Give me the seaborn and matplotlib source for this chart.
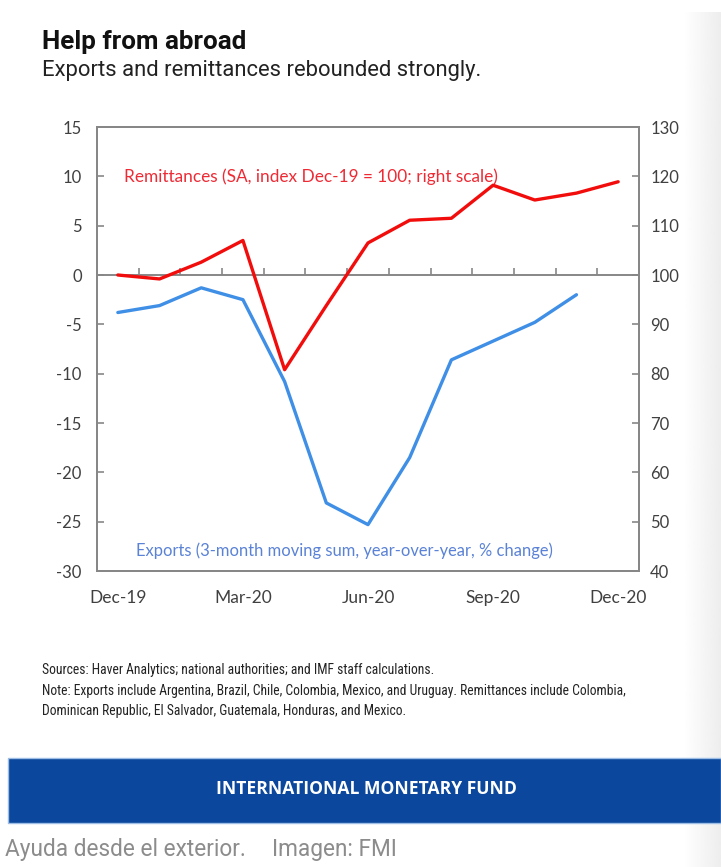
import numpy as np
import pandas as pd
import matplotlib
matplotlib.use("Agg")
import matplotlib.pyplot as plt
import seaborn as sns
from matplotlib import font_manager
from matplotlib.patches import Rectangle

# ---- data -------------------------------------------------------------
months = ["Dec-19", "Jan-20", "Feb-20", "Mar-20", "Apr-20", "May-20", "Jun-20",
          "Jul-20", "Aug-20", "Sep-20", "Oct-20", "Nov-20", "Dec-20"]
remittances = [100.0, 99.2, 102.6, 107.0, 80.8, 93.8, 106.5,
               111.1, 111.5, 118.2, 115.2, 116.6, 118.9]
exports = [-3.8, -3.1, -1.3, -2.5, -10.8, -23.1, -25.3,
           -18.5, -8.6, -6.7, -4.8, -2.0]
tick_months = ["Dec-19", "Mar-20", "Jun-20", "Sep-20", "Dec-20"]
left_ticks = [15, 10, 5, 0, -5, -10, -15, -20, -25, -30]
right_ticks = [130, 120, 110, 100, 90, 80, 70, 60, 50, 40]

title = "Help from abroad"
subtitle = "Exports and remittances rebounded strongly."
remit_label = "Remittances (SA, index Dec-19 = 100; right scale)"
export_label = "Exports (3-month moving sum, year-over-year, % change)"
notes = ["Sources: Haver Analytics; national authorities; and IMF staff calculations.",
         "Note: Exports include Argentina, Brazil, Chile, Colombia, Mexico, and Uruguay. Remittances include Colombia,",
         "Dominican Republic, El Salvador, Guatemala, Honduras, and Mexico."]
banner = "INTERNATIONAL MONETARY FUND"
caption_a = "Ayuda desde el exterior."
caption_b = "Imagen: FMI"

# ---- styling ----------------------------------------------------------
sns.set_theme(style="white")
installed = {f.name for f in font_manager.fontManager.ttflist}
chart_font = "Lato" if "Lato" in installed else "DejaVu Sans"
head_font = "Roboto" if "Roboto" in installed else "DejaVu Sans"
banner_font = "Open Sans" if "Open Sans" in installed else "DejaVu Sans"
narrow_font = next((n for n in ["Liberation Sans Narrow", "Roboto Condensed", "Open Sans Condensed"]
                    if n in installed), "Liberation Sans")
plt.rcParams["font.family"] = [chart_font, "DejaVu Sans"]

RED = "#f20d0d"
BLUE = "#3f8fe6"
SPINE = "#878787"
TXT = "#404040"

W, H = 721, 867
fig = plt.figure(figsize=(W / 100, H / 100), dpi=100)
fig.patch.set_facecolor("white")

# soft grey strip along the right edge
strip = fig.add_axes([683 / W, 0, 38 / W, 1 - 12 / H], zorder=-5)
strip.imshow(np.linspace(1.0, 0.93, 64)[None, :], cmap="gray", vmin=0, vmax=1,
             aspect="auto", extent=[0, 1, 0, 1])
strip.set_axis_off()

# ---- main chart -------------------------------------------------------
x_of = {m: i for i, m in enumerate(months)}
df_exp = pd.DataFrame({"pos": [x_of[m] for m in months[:len(exports)]], "value": exports})
df_rem = pd.DataFrame({"pos": [x_of[m] for m in months], "value": remittances})

ax = fig.add_axes([97 / W, 1 - 571 / H, (639 - 97) / W, (571 - 127) / H])
ax2 = ax.twinx()

sns.lineplot(data=df_exp, x="pos", y="value", ax=ax, color=BLUE, lw=2.4, zorder=3)
sns.lineplot(data=df_rem, x="pos", y="value", ax=ax2, color=RED, lw=2.4, zorder=3)

ax.set_xlim(-0.5, len(months) - 0.5)
ax.set_ylim(min(left_ticks), max(left_ticks))
ax2.set_ylim(min(right_ticks), max(right_ticks))
ax.set_yticks(left_ticks)
ax.set_yticklabels([str(t) for t in left_ticks])
ax2.set_yticks(right_ticks)
ax2.set_yticklabels([str(t) for t in right_ticks])
ax.set_xticks([x_of[m] for m in tick_months])
ax.set_xticklabels(tick_months)
for a in (ax, ax2):
    a.set_xlabel("")
    a.set_ylabel("")
    for s in a.spines.values():
        s.set_color(SPINE)
        s.set_linewidth(1.4)
    a.grid(False)

ax.tick_params(axis="y", direction="in", length=5, width=1.2, color=SPINE,
               labelsize=12, labelcolor=TXT, pad=11)
ax2.tick_params(axis="y", direction="in", length=5, width=1.2, color=SPINE,
                labelsize=12, labelcolor=TXT, pad=8)
ax.tick_params(axis="x", length=0, labelsize=12.5, labelcolor=TXT, pad=14)

# zero line with category-boundary ticks
ax.axhline(0, color=SPINE, lw=1.4, zorder=2)
bounds = np.arange(len(months) - 1) + 0.5
ax.plot(bounds, np.zeros_like(bounds), ls="none", marker=2, ms=5, mew=1.2,
        color=SPINE, zorder=2)

ax.text(0.14, 10, remit_label, color="#ee2b35", fontsize=12.4, va="center", ha="left")
ax.text(0.43, -27.9, export_label, color="#5a82d6", fontsize=11.9, va="center", ha="left")

# ---- headings, notes, banner -----------------------------------------
fig.text(42 / W, 1 - 49 / H, title, fontsize=18.7, fontweight="bold",
         family=[head_font, "DejaVu Sans"], color="#111111", va="baseline")
fig.text(42 / W, 1 - 76 / H, subtitle, fontsize=15.8,
         family=[head_font, "DejaVu Sans"], color="#222222", va="baseline")

for i, line in enumerate(notes):
    fig.text(42 / W, 1 - (674 + 20.5 * i) / H, line, fontsize=9.8,
             family=[narrow_font, "DejaVu Sans"], color="#222222", va="baseline")

fig.patches.append(Rectangle((8 / W, 1 - 823 / H), 1 - 8 / W, 65 / H,
                             transform=fig.transFigure, facecolor="#0b479c",
                             edgecolor="#9dbde6", lw=1.0, zorder=1))
fig.text(366 / W, 1 - 789 / H, banner, fontsize=12.6, fontweight="bold",
         family=[banner_font, "DejaVu Sans"],
         color="white", ha="center", va="center", zorder=2)

fig.text(5 / W, 1 - 856 / H, caption_a, fontsize=16.3, color="#8c8c8c",
         family=[head_font, "DejaVu Sans"], va="baseline")
fig.text(272 / W, 1 - 856 / H, caption_b, fontsize=16.3, color="#8c8c8c",
         family=[head_font, "DejaVu Sans"], va="baseline")

fig.savefig("out.png", dpi=100)
